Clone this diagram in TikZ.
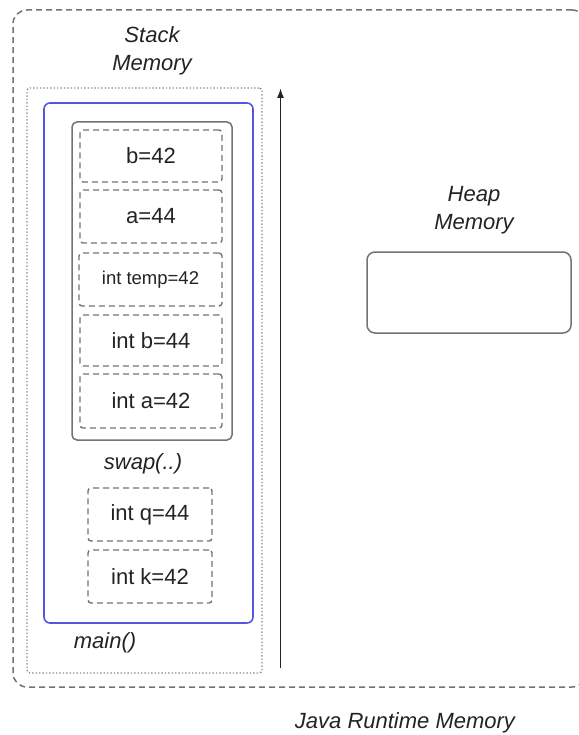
\documentclass[tikz,border=0pt]{standalone}
\usepackage{fontspec}
\setmainfont{Liberation Sans}
\usetikzlibrary{arrows.meta}
\definecolor{mainblue}{RGB}{85,85,225}
\definecolor{txtgray}{RGB}{35,35,35}
\tikzset{
  frame/.style={draw, inner sep=0pt, outer sep=0pt},
  memframe/.style={frame, black!55, dashed, dash pattern=on 6pt off 4pt, line width=1.5pt, rounded corners=14pt},
  stackframe/.style={frame, black!45, dotted, line width=1.4pt, rounded corners=3pt},
  mainframe/.style={frame, mainblue, line width=1.6pt, rounded corners=6pt},
  swapframe/.style={frame, black!55, line width=1.5pt, rounded corners=5pt},
  heapframe/.style={frame, black!55, line width=1.5pt, rounded corners=8pt},
  slot/.style={frame, black!55, dashed, dash pattern=on 6pt off 4pt, line width=1.4pt, rounded corners=3pt,
    text=txtgray, font=\fontsize{22}{26}\selectfont},
  lbl/.style={text=txtgray, align=center, font=\fontsize{22}{28}\selectfont\itshape},
}
\begin{document}
\begin{tikzpicture}[x=1pt, y=-1pt]
        \useasboundingbox (0,0) rectangle (578,735);
        \node[memframe, minimum width=573pt, minimum height=677pt] (JRM) at (299.5,348.5) {};
        \node[stackframe, minimum width=235pt, minimum height=585pt] (SM) at (144.5,380.5) {};
        \node[mainframe, minimum width=209pt, minimum height=520pt] (MAIN) at (148.5,363) {};
        \node[swapframe, minimum width=160pt, minimum height=318pt] (SWAP) at (152,281) {};
        \node[heapframe, minimum width=204pt, minimum height=81pt] (HEAPBOX) at (469,292.5) {};
        % frames of swap(..)
        \node[slot, minimum width=142pt, minimum height=52pt] (B2) at (151,156) {b=42};
        \node[slot, minimum width=142pt, minimum height=53pt] (A2) at (151,216.5) {a=44};
        \node[slot, minimum width=143pt, minimum height=53pt, font=\fontsize{18.5}{22}\selectfont] (TEMP) at (150.5,279.5) {int temp=42};
        \node[slot, minimum width=142pt, minimum height=51pt] (B1) at (151,340.5) {int b=44};
        \node[slot, minimum width=142pt, minimum height=54pt] (A1) at (151,401) {int a=42};
        % frames of main()
        \node[slot, minimum width=124pt, minimum height=53pt] (Q) at (150,514.5) {int q=44};
        \node[slot, minimum width=124pt, minimum height=53pt] (K) at (150,576.5) {int k=42};
        \node[lbl] (SMlbl) at (152,51) {Stack\\Memory};
        \node[lbl] (HMlbl) at (474,210) {Heap\\Memory};
        \node[lbl] (SWAPlbl) at (143,464) {swap(..)};
        \node[lbl] (MAINlbl) at (105,643) {main()};
        \node[lbl] (JRMlbl) at (405,723) {Java Runtime Memory};
        \coordinate (ARRbase) at (280.5,668);
        \coordinate (ARRtip) at (280.5,88);
        \draw[-{Latex[length=10pt,width=7pt]}, line width=1.6pt, txtgray] (ARRbase) to (ARRtip);
    \end{tikzpicture}
\end{document}
